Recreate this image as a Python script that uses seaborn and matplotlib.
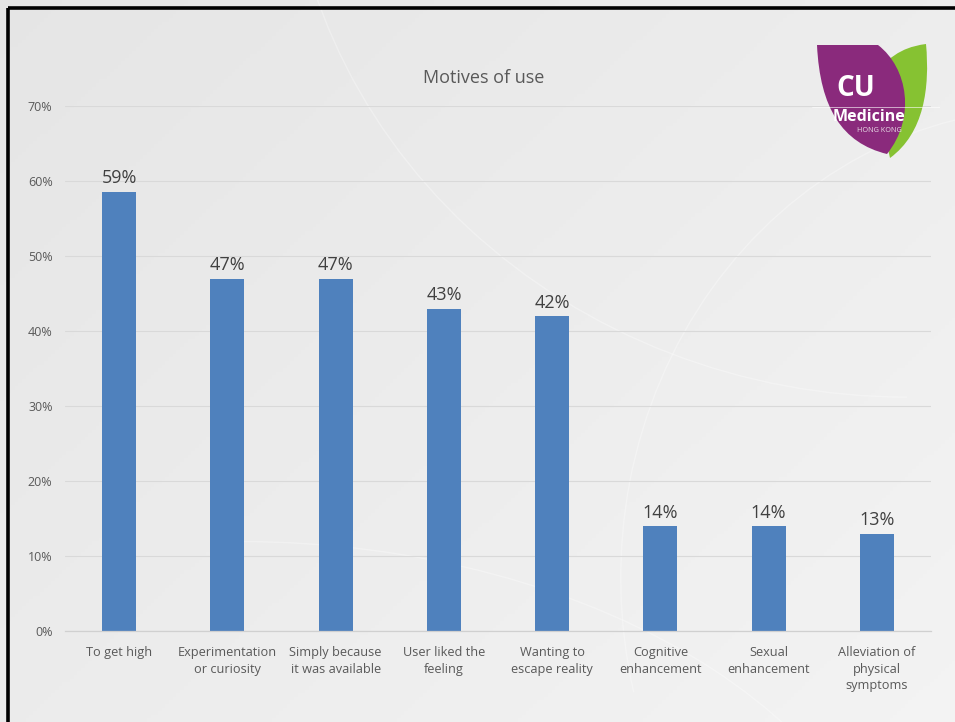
import numpy as np
import pandas as pd
import matplotlib
matplotlib.use("Agg")
import matplotlib.pyplot as plt
from matplotlib.path import Path
from matplotlib.patches import PathPatch, Arc
import seaborn as sns

# Survey data: share of respondents citing each motive (%)
motives = [
    "To get high",
    "Experimentation\nor curiosity",
    "Simply because\nit was available",
    "User liked the\nfeeling",
    "Wanting to\nescape reality",
    "Cognitive\nenhancement",
    "Sexual\nenhancement",
    "Alleviation of\nphysical\nsymptoms",
]
shares = [58.6, 47, 47, 43, 42, 14, 14, 13]
y_ticks = [0, 10, 20, 30, 40, 50, 60, 70]
title = "Motives of use"

df = pd.DataFrame({"motive": motives, "share": shares})

sns.set_theme(style="white")
plt.rcParams["font.family"] = ["Open Sans", "DejaVu Sans"]

W, H = 955, 722
fig = plt.figure(figsize=(W / 100, H / 100), dpi=100)

# Slide background: soft grey diagonal gradient with faint arcs
bg = fig.add_axes([0, 0, 1, 1], zorder=-10)
yy, xx = np.mgrid[0:1:200j, 0:1:260j]
grad = 0.9 + 0.055 * (0.55 * xx + 0.45 * yy)
bg.imshow(np.dstack([grad, grad, grad]), extent=[0, 1, 0, 1],
          origin="upper", aspect="auto")
for cx, cy, w, h, t1, t2 in [(0.95, 1.25, 1.3, 1.6, 180, 270),
                              (0.25, -0.35, 1.4, 1.2, 0, 90),
                              (1.1, 0.2, 0.9, 1.3, 90, 200)]:
    bg.add_patch(Arc((cx, cy), w, h, theta1=t1, theta2=t2,
                     color="white", lw=1.0, alpha=0.3))
# Black frame on the left and top edges
bg.plot([7.5 / W, 7.5 / W], [0, 1 - 7.5 / H], color="black", lw=2.6,
        solid_capstyle="butt")
bg.plot([7.5 / W, 1], [1 - 7.5 / H, 1 - 7.5 / H], color="black", lw=2.6,
        solid_capstyle="butt")
bg.set_xlim(0, 1)
bg.set_ylim(0, 1)
bg.axis("off")

# Main bar chart
left, right = 65 / W, 931 / W
bottom, top = (H - 631) / H, (H - 106) / H
ax = fig.add_axes([left, bottom, right - left, top - bottom])
ax.patch.set_alpha(0)
sns.barplot(data=df, x="motive", y="share", color="#4F81BD",
            width=0.315, saturation=1, linewidth=0, ax=ax)
ax.set_xlim(-0.5, len(motives) - 0.5)
ax.set_ylim(0, 70)
ax.set_yticks(y_ticks)
ax.set_yticklabels([f"{t}%" for t in y_ticks], fontsize=9,
                   color="#595959")
ax.tick_params(axis="x", labelsize=9.2, labelcolor="#595959", length=0,
               pad=11)
ax.tick_params(axis="y", length=0, pad=9)
for lbl in ax.get_xticklabels():
    lbl.set_linespacing(1.35)
ax.set_xlabel("")
ax.set_ylabel("")
ax.grid(axis="y", color="#d9d9d9", lw=0.8)
ax.set_axisbelow(True)
for s in ["left", "right", "top"]:
    ax.spines[s].set_visible(False)
ax.spines["bottom"].set_color("#d0d0d0")
ax.spines["bottom"].set_linewidth(0.9)

for c in ax.containers:
    ax.bar_label(c, labels=[f"{v:.0f}%" for v in c.datavalues],
                 fontsize=13, color="#404040", padding=3)

fig.text(484 / W, 1 - 78 / H, title, ha="center", va="center",
         fontsize=13, color="#595959")

# Logo in the top-right corner
lx0, ly0, lw_, lh_ = 812, 38, 128, 127
lg = fig.add_axes([lx0 / W, 1 - (ly0 + lh_) / H, lw_ / W, lh_ / H])
lg.set_xlim(0, lw_)
lg.set_ylim(lh_, 0)
lg.axis("off")
green = Path([(60, 40), (80, 12), (100, 8), (114, 6),
              (118, 50), (112, 95), (78, 120),
              (60, 40)],
             [Path.MOVETO, Path.CURVE4, Path.CURVE4, Path.CURVE4,
              Path.CURVE4, Path.CURVE4, Path.CURVE4, Path.CLOSEPOLY])
lg.add_patch(PathPatch(green, facecolor="#86c232", edgecolor="none"))
purple = Path([(5, 7), (66, 7),
               (96, 30), (104, 80), (75, 116),
               (30, 105), (8, 70), (5, 7),
               (5, 7)],
              [Path.MOVETO, Path.LINETO,
               Path.CURVE4, Path.CURVE4, Path.CURVE4,
               Path.CURVE4, Path.CURVE4, Path.CURVE4,
               Path.CLOSEPOLY])
lg.add_patch(PathPatch(purple, facecolor="#8a2a7c", edgecolor="none"))
lg.text(44, 50, "CU", ha="center", va="center", fontsize=20,
        fontweight="bold", color="white")
lg.plot([0, 128], [69, 69], color="white", lw=0.6, alpha=0.7)
lg.text(57, 79, "Medicine", ha="center", va="center", fontsize=11.5,
        fontweight="bold", color="white")
lg.text(67, 92, "HONG KONG", ha="center", va="center", fontsize=5.2,
        color="#e8dce6")

fig.savefig("out.png", dpi=100)
